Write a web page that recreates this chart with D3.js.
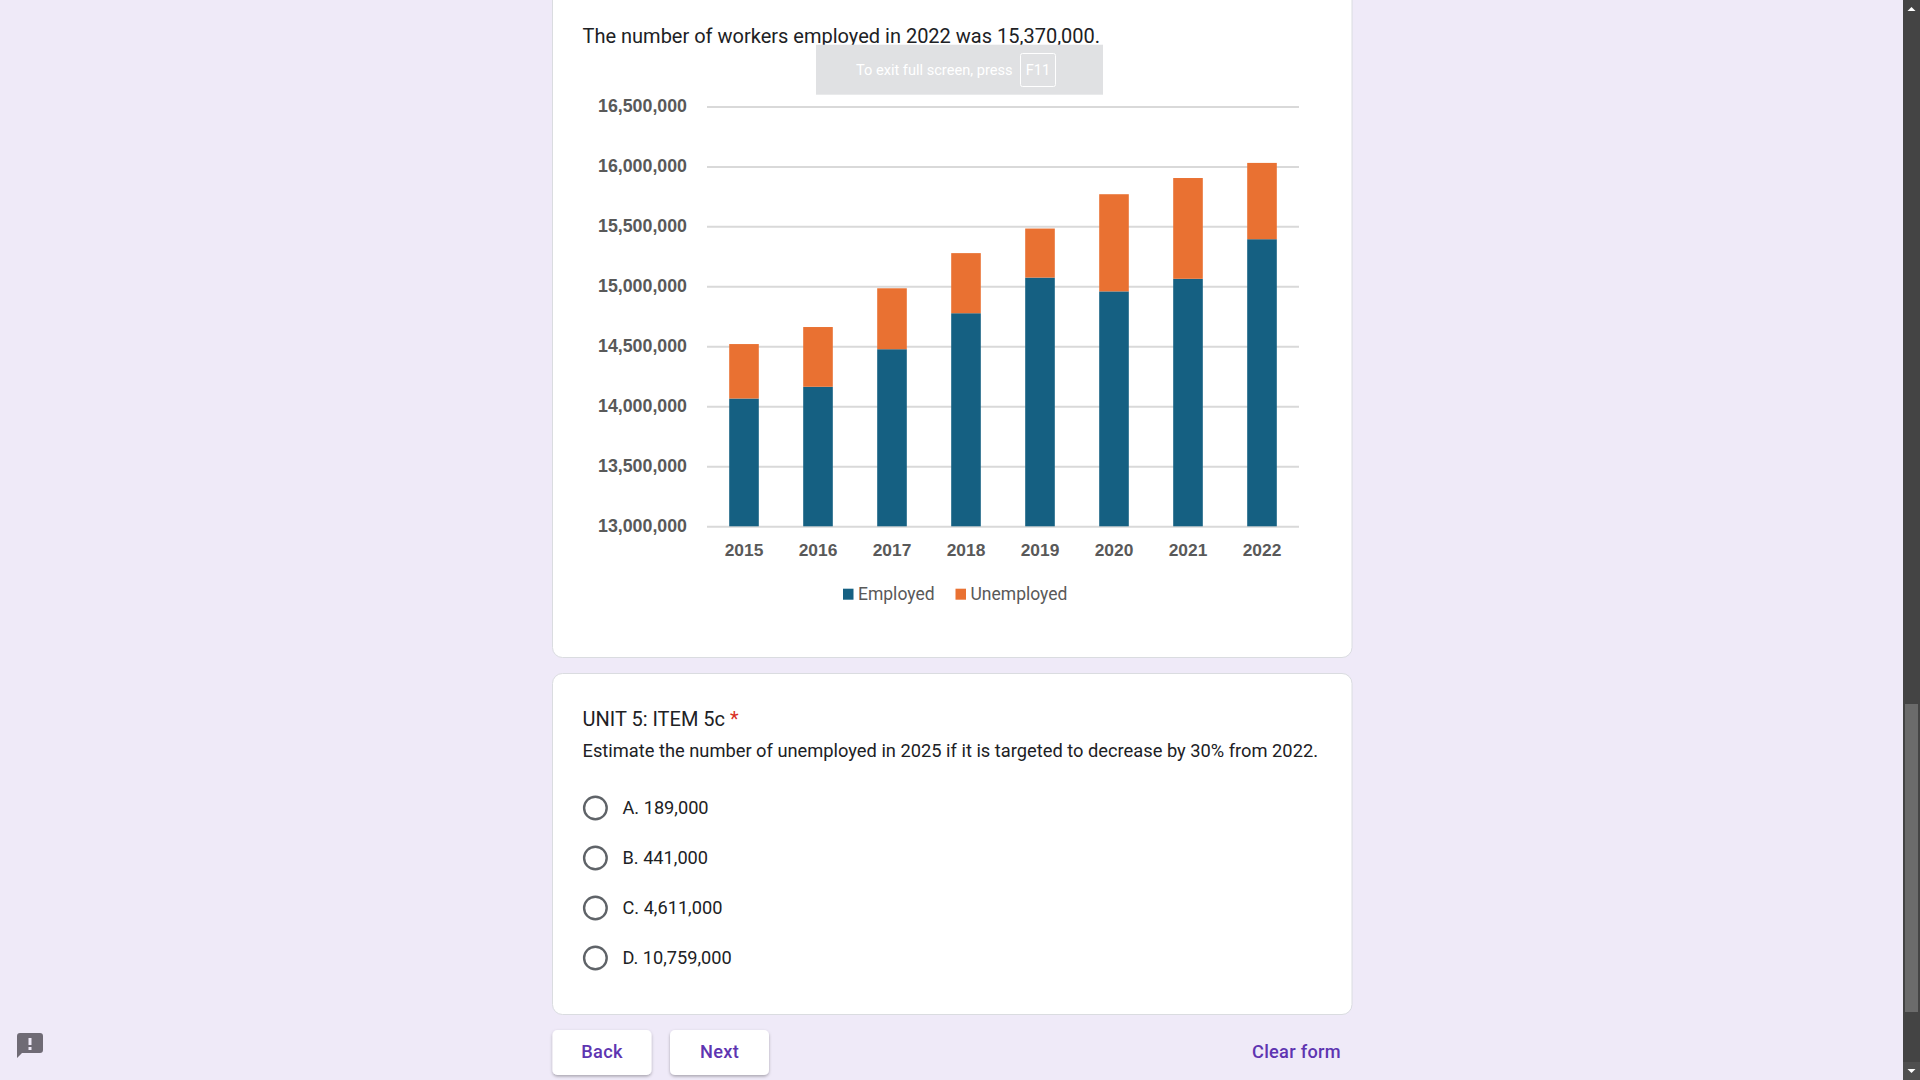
<!DOCTYPE html>
<html>
<head>
<meta charset="utf-8">
<script src="https://cdn.jsdelivr.net/npm/d3@7"></script>
<style>
html, body { margin: 0; padding: 0; background: #efeaf8; overflow: hidden; }
svg { display: block; }
text { font-family: Roboto, sans-serif; }
.axis text { font-family: "Liberation Sans", sans-serif; font-weight: bold; fill: #595959; }
</style>
</head>
<body>
<div id="page"></div>
<script>
// values
var years = ["2015", "2016", "2017", "2018", "2019", "2020", "2021", "2022"];
var employed = [14065000, 14163000, 14476000, 14776000, 15073000, 14958000, 15063000, 15393000];
var unemployed = [454000, 498000, 508000, 501000, 409000, 810000, 840000, 636000];
var seriesNames = ["Employed", "Unemployed"];
var seriesColors = ["#156082", "#e97132"];
var yTicks = [13000000, 13500000, 14000000, 14500000, 15000000, 15500000, 16000000, 16500000];
var options = ["A. 189,000", "B. 441,000", "C. 4,611,000", "D. 10,759,000"];

var w = 1920, h = 1080;

var svg = d3.select("#page").append("svg")
    .attr("width", w)
    .attr("height", h);

var defs = svg.append("defs");
var shadow = defs.append("filter").attr("id", "btnShadow")
    .attr("x", "-10%").attr("y", "-10%").attr("width", "120%").attr("height", "130%");
shadow.append("feDropShadow")
    .attr("dx", 0).attr("dy", 1.5).attr("stdDeviation", 1.5)
    .attr("flood-color", "#000").attr("flood-opacity", 0.3);

// form cards
function card(y0, y1) {
    svg.append("rect")
        .attr("x", 552.5).attr("y", y0)
        .attr("width", 799.5).attr("height", y1 - y0)
        .attr("rx", 10)
        .attr("fill", "#fff")
        .attr("stroke", "#dadce0");
}
card(-30, 657.5);
card(673.5, 1014.5);

svg.append("text")
    .attr("x", 582.5).attr("y", 43)
    .attr("font-size", 20)
    .attr("fill", "#202124")
    .text("The number of workers employed in 2022 was 15,370,000.");

// chart
var yScale = d3.scaleLinear().domain([13000000, 16500000]).range([526.3, 106.4]);
var xScale = d3.scaleBand().domain(years).range([707, 1299]).paddingInner(0.6).paddingOuter(0.3);
var xLabels = d3.scaleBand().domain(years).range([707, 1299]);

var yAxis = svg.append("g")
    .attr("class", "axis")
    .attr("transform", "translate(707,0)")
    .call(d3.axisLeft(yScale)
        .tickValues(yTicks)
        .tickFormat(d3.format(","))
        .tickSize(-592)
        .tickPadding(20));
yAxis.select(".domain").remove();
yAxis.selectAll("line").attr("stroke", "#d9d9d9").attr("stroke-width", 2);
yAxis.selectAll("text").attr("font-size", 17.8).attr("font-family", "Liberation Sans").attr("y", -1);

var xAxis = svg.append("g")
    .attr("class", "axis")
    .attr("transform", "translate(0,526.3)")
    .call(d3.axisBottom(xLabels).tickSize(0).tickPadding(17.5));
xAxis.select(".domain").remove();
xAxis.selectAll("text").attr("font-size", 17.4).attr("font-family", "Liberation Sans");

var table = years.map(function (d, i) {
    return { year: d, Employed: employed[i], Unemployed: unemployed[i] };
});
var stacked = d3.stack().keys(seriesNames)(table);

// stack starts at 0, axis starts at 13,000,000 so clamp the base
var bars = svg.selectAll(".series")
    .data(stacked)
    .enter().append("g")
    .attr("class", "series")
    .attr("fill", function (d, i) { return seriesColors[i]; });

bars.selectAll("rect")
    .data(function (d) { return d; })
    .enter().append("rect")
    .attr("x", function (d) { return xScale(d.data.year); })
    .attr("width", xScale.bandwidth())
    .attr("y", function (d) { return yScale(d[1]); })
    .attr("height", function (d) { return yScale(Math.max(d[0], 13000000)) - yScale(d[1]); });

// legend
var legendX = [843, 955.5];
seriesNames.forEach(function (name, i) {
    svg.append("rect")
        .attr("x", legendX[i]).attr("y", 588.7)
        .attr("width", 10.5).attr("height", 11)
        .attr("fill", seriesColors[i]);
    svg.append("text")
        .attr("x", legendX[i] + 15).attr("y", 600)
        .attr("font-size", 17.5)
        .attr("fill", "#595959")
        .text(name);
});

// F11 toast
svg.append("rect")
    .attr("x", 816).attr("y", 44.7)
    .attr("width", 287).attr("height", 50)
    .attr("fill", "#e0e1e3");
svg.append("text")
    .attr("x", 856).attr("y", 75)
    .attr("font-size", 14.6)
    .attr("fill", "#fff")
    .text("To exit full screen, press");
svg.append("rect")
    .attr("x", 1020.5).attr("y", 53.5)
    .attr("width", 35).attr("height", 33)
    .attr("rx", 2)
    .attr("fill", "none")
    .attr("stroke", "#fff");
svg.append("text")
    .attr("x", 1038).attr("y", 75)
    .attr("text-anchor", "middle")
    .attr("font-size", 14.6)
    .attr("fill", "#fff")
    .text("F11");

// question
var q = svg.append("text")
    .attr("x", 582.5).attr("y", 726)
    .attr("font-size", 20)
    .attr("fill", "#202124")
    .text("UNIT 5: ITEM 5c ");
q.append("tspan").attr("fill", "#d93025").text("*");

svg.append("text")
    .attr("x", 582.5).attr("y", 757)
    .attr("font-size", 18.3)
    .attr("fill", "#202124")
    .text("Estimate the number of unemployed in 2025 if it is targeted to decrease by 30% from 2022.");

var optY = d3.scalePoint().domain(options).range([808, 958]);
options.forEach(function (o) {
    svg.append("circle")
        .attr("cx", 595.4).attr("cy", optY(o))
        .attr("r", 11.3)
        .attr("fill", "none")
        .attr("stroke", "#5f6368")
        .attr("stroke-width", 2.4);
    svg.append("text")
        .attr("x", 622.5).attr("y", optY(o) + 6)
        .attr("font-size", 18.2)
        .attr("fill", "#202124")
        .text(o);
});

// bottom buttons
function button(x, width, label) {
    svg.append("rect")
        .attr("x", x).attr("y", 1030)
        .attr("width", width).attr("height", 45)
        .attr("rx", 5)
        .attr("fill", "#fff")
        .attr("filter", "url(#btnShadow)");
    svg.append("text")
        .attr("x", x + width / 2).attr("y", 1057.5)
        .attr("text-anchor", "middle")
        .attr("font-size", 18.2)
        .attr("font-weight", 500)
        .attr("letter-spacing", 0.3)
        .attr("fill", "#5e35b1")
        .text(label);
}
button(552.5, 99, "Back");
button(670, 99, "Next");
svg.append("text")
    .attr("x", 1341).attr("y", 1057.5)
    .attr("text-anchor", "end")
    .attr("font-size", 18.2)
    .attr("font-weight", 500)
    .attr("letter-spacing", 0.3)
    .attr("fill", "#5e35b1")
    .text("Clear form");

// report icon
svg.append("path")
    .attr("d", "M20 1033H40a3 3 0 0 1 3 3V1050a3 3 0 0 1-3 3H22L17 1058V1036a3 3 0 0 1 3-3Z")
    .attr("fill", "#6f6b75");
svg.append("rect").attr("x", 28.5).attr("y", 1038).attr("width", 3).attr("height", 7).attr("fill", "#efeaf8");
svg.append("rect").attr("x", 28.5).attr("y", 1047).attr("width", 3).attr("height", 3).attr("fill", "#efeaf8");

// scrollbar
svg.append("rect").attr("x", 1903).attr("y", 0).attr("width", 17).attr("height", h).attr("fill", "#444");
svg.append("rect").attr("x", 1903).attr("y", 1062).attr("width", 17).attr("height", 18).attr("fill", "#4f4f4f");
svg.append("rect").attr("x", 1905).attr("y", 704).attr("width", 13).attr("height", 308).attr("fill", "#6b6b6b");
svg.append("path").attr("d", "M1907.5 11L1911.5 7L1915.5 11Z").attr("fill", "#fff");
svg.append("path").attr("d", "M1907.5 1069L1911.5 1073L1915.5 1069Z").attr("fill", "#fff");
</script>
</body>
</html>
